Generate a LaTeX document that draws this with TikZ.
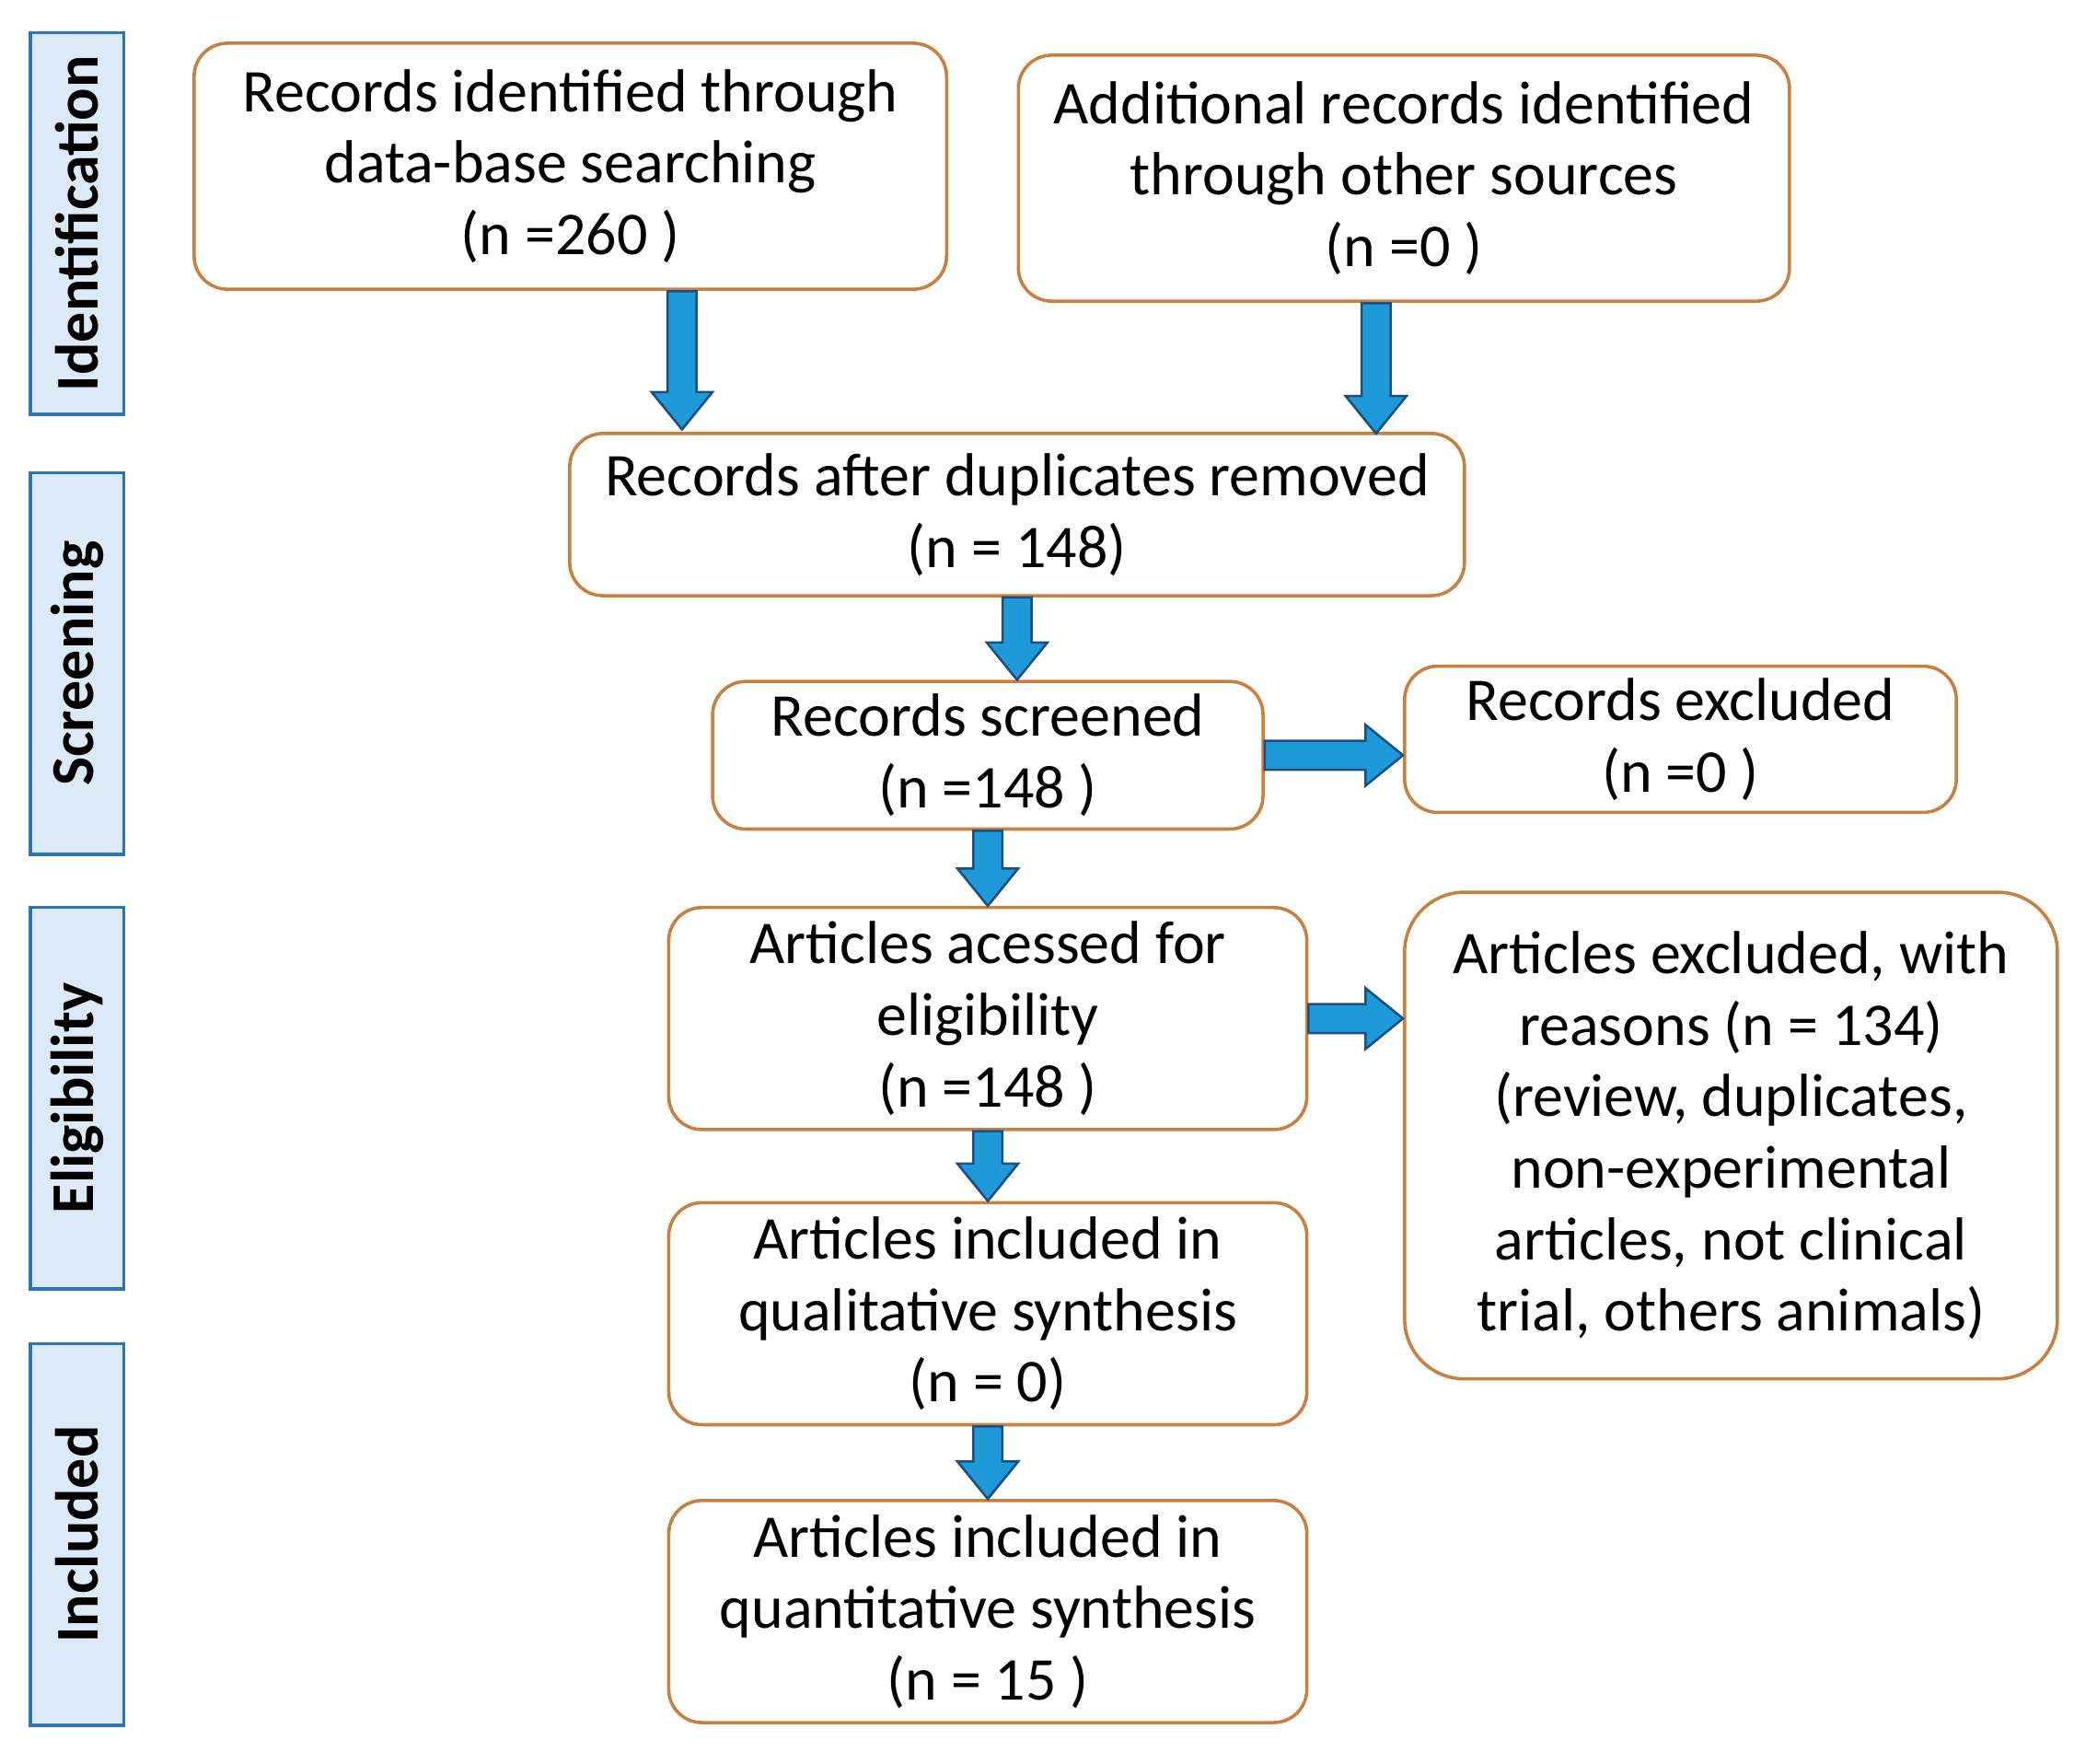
\documentclass[tikz,border=0pt]{standalone}
\usepackage{fontspec}
\setmainfont{Carlito}
\usetikzlibrary{calc}
\definecolor{boxline}{HTML}{C8803E}
\definecolor{sidefill}{HTML}{DCE9F6}
\definecolor{sideline}{HTML}{2E75B6}
\definecolor{arrfill}{HTML}{1F9AD8}
\definecolor{arrline}{HTML}{1B4F80}
\tikzset{
  box/.style={draw=boxline, line width=0.7pt, rounded corners=2.5mm, align=center,
    font=\fontsize{13}{15.3}\selectfont, inner sep=0pt},
  side/.style={draw=sideline, fill=sidefill, line width=0.7pt, rotate=90,
    font=\fontsize{13}{15}\selectfont\bfseries, minimum width=28.7mm, minimum height=7mm},
  barrow/.style={draw=arrline, fill=arrfill, line width=0.5pt, line join=miter}
}
% block arrows, down and right
\newcommand{\varr}[2]{\draw[barrow] let \p1=(#1), \p2=(#2) in
  (\x1-3.1pt,\y1) -- (\x1+3.1pt,\y1) -- (\x1+3.1pt,\y2+8pt) -- (\x1+6.5pt,\y2+8pt)
  -- (\x1,\y2) -- (\x1-6.5pt,\y2+8pt) -- (\x1-3.1pt,\y2+8pt) -- cycle;}
\newcommand{\harr}[2]{\draw[barrow] let \p1=(#1), \p2=(#2) in
  (\x1,\y1+3.1pt) -- (\x1,\y1-3.1pt) -- (\x2-8pt,\y1-3.1pt) -- (\x2-8pt,\y1-6.5pt)
  -- (\x2,\y1) -- (\x2-8pt,\y1+6.5pt) -- (\x2-8pt,\y1+3.1pt) -- cycle;}
\begin{document}
\begin{tikzpicture}[x=0.1mm, y=-0.1mm]
\useasboundingbox (0,0) rectangle (1560,1326);
% phases
\node[side] (ident) at (58,168) {Identification};
\node[side] (screen) at (58,499) {Screening};
\node[side] (elig) at (58,826) {Eligibility};
\node[side] (incl) at (58,1154) {Included};
% boxes
\node[box, minimum width=56.6mm, minimum height=18.5mm] (db) at (429,125)
  {Records identified through\\data-base searching\\(n =260 )};
\node[box, minimum width=58mm, minimum height=18.5mm] (other) at (1056,134)
  {Additional records identified\\through other sources\\(n =0 )};
\node[box, minimum width=67.3mm, minimum height=12.2mm] (dup) at (765,387)
  {Records after duplicates removed\\(n = 148)};
\node[box, minimum width=41.4mm, minimum height=11.1mm] (scr) at (743,568)
  {Records screened\\(n =148 )};
\node[box, minimum width=41.5mm, minimum height=11mm] (exc) at (1264,556)
  {Records excluded\\(n =0 )};
\node[box, minimum width=48mm, minimum height=16.7mm] (acc) at (743,766)
  {Articles acessed for\\eligibility\\(n =148 )};
\node[box, minimum width=49.1mm, minimum height=36.6mm, rounded corners=4.5mm] (rea) at (1302,854)
  {Articles excluded, with\\reasons (n = 134)\\(review, duplicates,\\non-experimental\\articles, not clinical\\trial, others animals)};
\node[box, minimum width=48mm, minimum height=16.7mm] (qual) at (743,988)
  {Articles included in\\qualitative synthesis\\(n = 0)};
\node[box, minimum width=48mm, minimum height=16.7mm] (quan) at (743,1212)
  {Articles included in\\quantitative synthesis\\(n = 15 )};
% arrows
\coordinate (a1) at (513,219);
\coordinate (a2) at (513,323);
\coordinate (b1) at (1035,228);
\coordinate (b2) at (1035,326);
\varr{a1}{a2}
\varr{b1}{b2}
\varr{dup.south}{scr.north}
\varr{scr.south}{acc.north}
\varr{acc.south}{qual.north}
\varr{qual.south}{quan.north}
\harr{scr.east}{scr.east -| exc.west}
\harr{acc.east}{acc.east -| rea.west}
\end{tikzpicture}
\end{document}
